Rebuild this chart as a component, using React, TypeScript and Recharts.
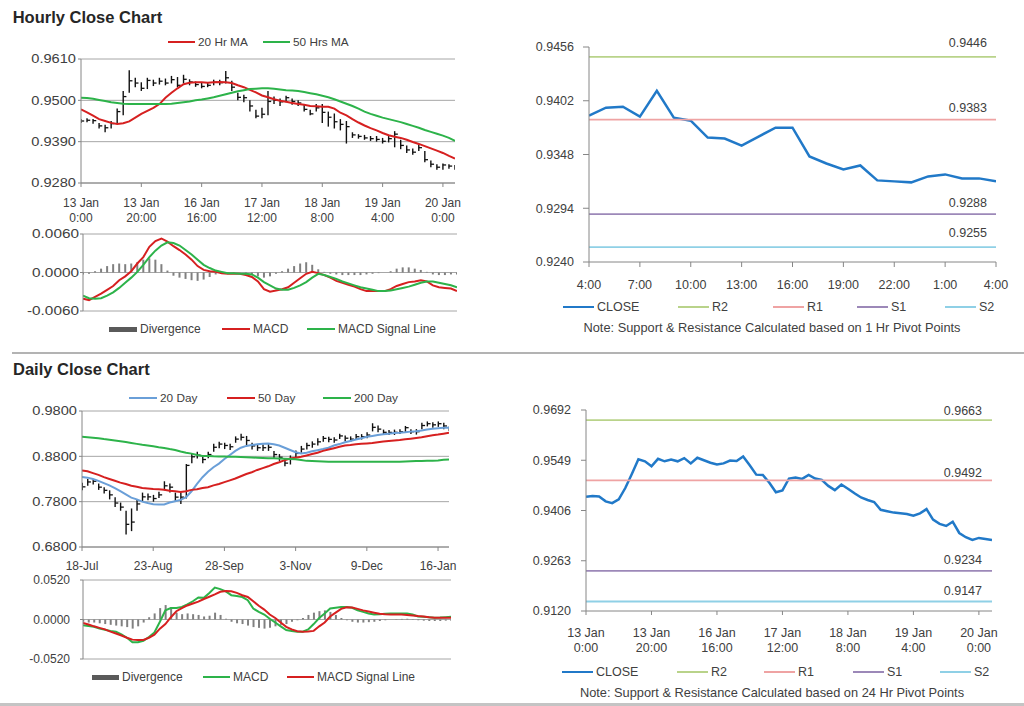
import React from 'react';
import { ComposedChart, Line, Bar, XAxis, YAxis, CartesianGrid, Legend, LabelList } from 'recharts';

const FONT = '"Liberation Sans", Arial, Helvetica, sans-serif';
const TXT = '#404040';
const AXIS = '#868686';
const GRID = '#a6a6a6';
const RED = '#d62020';
const GREEN = '#2db34a';
const LBLUE = '#6a9fd8';
const BLUE = '#2179c8';
const C_R2 = '#b9d38a';
const C_R1 = '#efa3a3';
const C_S1 = '#9c88b8';
const C_S2 = '#8fd0e6';
const DIVC = '#808080';

// ---------- Hourly (2-hour steps) ----------
const hourTickIdx = [0, 10, 20, 30, 40, 50, 60];
const hourTickLabels = [
  ['13 Jan', '0:00'], ['13 Jan', '20:00'], ['16 Jan', '16:00'], ['17 Jan', '12:00'],
  ['18 Jan', '8:00'], ['19 Jan', '4:00'], ['20 Jan', '0:00'],
];
const hourClose = [
  0.9445, 0.9447, 0.9446, 0.9432, 0.9427, 0.9438, 0.9470, 0.9510, 0.9552, 0.9546,
  0.9532, 0.9553, 0.9546, 0.9551, 0.9546, 0.9555, 0.9540, 0.9556, 0.9549, 0.9542,
  0.9537, 0.9540, 0.9548, 0.9547, 0.9560, 0.9535, 0.9508, 0.9507, 0.9485, 0.9458,
  0.9463, 0.9497, 0.9500, 0.9496, 0.9507, 0.9497, 0.9493, 0.9476, 0.9464, 0.9480,
  0.9468, 0.9455, 0.9443, 0.9436, 0.9430, 0.9408, 0.9404, 0.9400, 0.9398, 0.9396,
  0.9391, 0.9398, 0.9410, 0.9380, 0.9368, 0.9362, 0.9374, 0.9342, 0.9330, 0.9322,
  0.9328, 0.9325, 0.9322,
];
const hourHigh = [
  0.9450, 0.9452, 0.9450, 0.9440, 0.9435, 0.9445, 0.9478, 0.9525, 0.9580, 0.9560,
  0.9548, 0.9560, 0.9555, 0.9560, 0.9558, 0.9565, 0.9562, 0.9568, 0.9556, 0.9550,
  0.9548, 0.9548, 0.9555, 0.9555, 0.9578, 0.9552, 0.9520, 0.9515, 0.9500, 0.9475,
  0.9480, 0.9525, 0.9510, 0.9505, 0.9512, 0.9505, 0.9500, 0.9490, 0.9475, 0.9490,
  0.9490, 0.9470, 0.9465, 0.9450, 0.9445, 0.9415, 0.9410, 0.9408, 0.9405, 0.9405,
  0.9400, 0.9405, 0.9418, 0.9395, 0.9380, 0.9372, 0.9382, 0.9365, 0.9340, 0.9330,
  0.9332, 0.9330, 0.9328,
];
const hourLow = [
  0.9440, 0.9442, 0.9438, 0.9425, 0.9415, 0.9425, 0.9440, 0.9460, 0.9520, 0.9535,
  0.9525, 0.9530, 0.9538, 0.9542, 0.9540, 0.9545, 0.9535, 0.9545, 0.9540, 0.9536,
  0.9532, 0.9535, 0.9540, 0.9540, 0.9545, 0.9525, 0.9500, 0.9495, 0.9470, 0.9452,
  0.9452, 0.9460, 0.9490, 0.9485, 0.9495, 0.9488, 0.9485, 0.9470, 0.9460, 0.9470,
  0.9440, 0.9430, 0.9425, 0.9420, 0.9385, 0.9400, 0.9398, 0.9395, 0.9392, 0.9390,
  0.9385, 0.9388, 0.9375, 0.9370, 0.9360, 0.9355, 0.9365, 0.9335, 0.9322, 0.9315,
  0.9315, 0.9318, 0.9315,
];
const hourMA20 = [
  0.9476, 0.9468, 0.9459, 0.9450, 0.9445, 0.9440, 0.9437, 0.9439, 0.9444, 0.9454,
  0.9464, 0.9472, 0.9480, 0.9490, 0.9507, 0.9520, 0.9532, 0.9543, 0.9547, 0.9548,
  0.9548, 0.9547, 0.9548, 0.9549, 0.9548, 0.9546, 0.9540, 0.9535, 0.9528, 0.9521,
  0.9513, 0.9508, 0.9503, 0.9499, 0.9496, 0.9493, 0.9490, 0.9488, 0.9485, 0.9484,
  0.9483, 0.9483, 0.9478, 0.9467, 0.9460, 0.9450, 0.9441, 0.9433, 0.9426, 0.9420,
  0.9413, 0.9407, 0.9403, 0.9400, 0.9395, 0.9389, 0.9384, 0.9378, 0.9372, 0.9366,
  0.9360, 0.9352, 0.9345,
];
const hourMA50 = [
  0.9507, 0.9506, 0.9504, 0.9501, 0.9498, 0.9495, 0.9493, 0.9491, 0.9490, 0.9490,
  0.9490, 0.9490, 0.9490, 0.9490, 0.9490, 0.9491, 0.9493, 0.9495, 0.9497, 0.9500,
  0.9502, 0.9505, 0.9508, 0.9512, 0.9516, 0.9520, 0.9524, 0.9527, 0.9530, 0.9531,
  0.9532, 0.9532, 0.9531, 0.9529, 0.9527, 0.9526, 0.9525, 0.9522, 0.9519, 0.9516,
  0.9512, 0.9508, 0.9503, 0.9497, 0.9491, 0.9485, 0.9478, 0.9470, 0.9464, 0.9459,
  0.9454, 0.9450, 0.9446, 0.9442, 0.9437, 0.9432, 0.9427, 0.9421, 0.9416, 0.9411,
  0.9406, 0.9400, 0.9392,
];
const hourMACD = [
  -0.0041, -0.0043, -0.0038, -0.0033, -0.0027, -0.0021, -0.0012, -0.0006, 0.0002, 0.0014,
  0.0024, 0.0040, 0.0049, 0.0053, 0.0048, 0.0041, 0.0035, 0.0028, 0.0020, 0.0010,
  0.0004, 0.0002, 0.0001, -0.0001, -0.0002, -0.0002, -0.0002, -0.0004, -0.0007, -0.0014,
  -0.0026, -0.0030, -0.0028, -0.0026, -0.0023, -0.0016, -0.0009, -0.0002, 0.0001, -0.0001,
  -0.0004, -0.0008, -0.0013, -0.0016, -0.0019, -0.0022, -0.0026, -0.0029, -0.0029, -0.0029,
  -0.0029, -0.0026, -0.0021, -0.0018, -0.0015, -0.0014, -0.0012, -0.0014, -0.0020, -0.0023,
  -0.0024, -0.0025, -0.0029,
];
const hourSignal = [
  -0.0036, -0.0040, -0.0041, -0.0040, -0.0036, -0.0031, -0.0024, -0.0016, -0.0008, 0.0001,
  0.0012, 0.0024, 0.0034, 0.0042, 0.0047, 0.0046, 0.0042, 0.0035, 0.0028, 0.0020,
  0.0012, 0.0007, 0.0003, 0.0001, -0.0001, -0.0001, -0.0002, -0.0002, -0.0003, -0.0008,
  -0.0015, -0.0020, -0.0025, -0.0027, -0.0027, -0.0024, -0.0020, -0.0015, -0.0008, -0.0002,
  -0.0004, -0.0007, -0.0010, -0.0014, -0.0017, -0.0020, -0.0023, -0.0025, -0.0027, -0.0029,
  -0.0029, -0.0028, -0.0026, -0.0024, -0.0022, -0.0019, -0.0016, -0.0014, -0.0014, -0.0016,
  -0.0018, -0.0020, -0.0023,
];
const hourDiv = [
  -0.0003, -0.0002, 0.0002, 0.0006, 0.0010, 0.0013, 0.0014, 0.0013, 0.0014, 0.0016,
  0.0020, 0.0022, 0.0020, 0.0013, 0.0003, -0.0005, -0.0008, -0.0010, -0.0012, -0.0013,
  -0.0011, -0.0007, -0.0003, -0.0002, -0.0001, -0.0001, 0.0000, -0.0002, -0.0004, -0.0006,
  -0.0008, -0.0006, -0.0002, 0.0002, 0.0006, 0.0010, 0.0014, 0.0016, 0.0012, 0.0005,
  0.0001, -0.0002, -0.0003, -0.0004, -0.0004, -0.0004, -0.0004, -0.0003, -0.0002, -0.0001,
  0.0000, 0.0002, 0.0006, 0.0008, 0.0008, 0.0006, 0.0004, 0.0001, -0.0003, -0.0004,
  -0.0004, -0.0003, -0.0003,
];

// ---------- 1-hour pivot chart ----------
const pivotTickIdx = [0, 3, 6, 9, 12, 15, 18, 21, 24];
const pivotTickLabels = ['4:00', '7:00', '10:00', '13:00', '16:00', '19:00', '22:00', '1:00', '4:00'];
const pivotClose = [
  0.9387, 0.9395, 0.9396, 0.9386, 0.9412, 0.9385, 0.9382, 0.9365, 0.9364, 0.9357,
  0.9366, 0.9375, 0.9375, 0.9346, 0.9339, 0.9333, 0.9337, 0.9322, 0.9321, 0.9320,
  0.9326, 0.9328, 0.9324, 0.9324, 0.9321,
];
const hr1R2 = 0.9446;
const hr1R1 = 0.9383;
const hr1S1 = 0.9288;
const hr1S2 = 0.9255;
const d24R2 = 0.9663;
const d24R1 = 0.9492;
const d24S1 = 0.9234;
const d24S2 = 0.9147;

// ---------- Daily (2-day steps) ----------
const dailyTickIdx = [0, 13, 26, 39, 52, 65];
const dailyTickLabels = ['18-Jul', '23-Aug', '28-Sep', '3-Nov', '9-Dec', '16-Jan'];
const dailyClose = [
  0.8127, 0.8235, 0.8250, 0.8120, 0.8050, 0.7950, 0.7770, 0.7680, 0.7300, 0.7350,
  0.7750, 0.7906, 0.7906, 0.7869, 0.7950, 0.8150, 0.8120, 0.7900, 0.7900, 0.8600,
  0.8790, 0.8827, 0.8730, 0.8840, 0.9000, 0.9070, 0.9040, 0.9011, 0.9180, 0.9220,
  0.9150, 0.9030, 0.8990, 0.8990, 0.9000, 0.8840, 0.8780, 0.8650, 0.8754, 0.8864,
  0.8960, 0.9040, 0.9070, 0.9120, 0.9196, 0.9174, 0.9160, 0.9250, 0.9200, 0.9180,
  0.9233, 0.9233, 0.9270, 0.9440, 0.9400, 0.9330, 0.9328, 0.9330, 0.9343, 0.9432,
  0.9343, 0.9343, 0.9480, 0.9520, 0.9495, 0.9520, 0.9470, 0.9402,
];
const dailyHigh = [
  0.8220, 0.8300, 0.8300, 0.8200, 0.8120, 0.8050, 0.7900, 0.7780, 0.7600, 0.7650,
  0.7850, 0.8000, 0.7980, 0.7950, 0.8020, 0.8250, 0.8200, 0.8000, 0.8000, 0.8630,
  0.8850, 0.8900, 0.8820, 0.8900, 0.9080, 0.9120, 0.9100, 0.9080, 0.9240, 0.9300,
  0.9250, 0.9100, 0.9060, 0.9060, 0.9070, 0.8920, 0.8850, 0.8750, 0.8820, 0.8930,
  0.9030, 0.9100, 0.9130, 0.9200, 0.9250, 0.9230, 0.9220, 0.9300, 0.9260, 0.9240,
  0.9290, 0.9290, 0.9330, 0.9530, 0.9480, 0.9390, 0.9380, 0.9390, 0.9400, 0.9470,
  0.9400, 0.9400, 0.9540, 0.9570, 0.9550, 0.9570, 0.9540, 0.9460,
];
const dailyLow = [
  0.8050, 0.8150, 0.8180, 0.8060, 0.7980, 0.7850, 0.7680, 0.7600, 0.7073, 0.7150,
  0.7600, 0.7800, 0.7830, 0.7800, 0.7880, 0.8050, 0.8000, 0.7800, 0.7750, 0.7870,
  0.8650, 0.8750, 0.8650, 0.8760, 0.8900, 0.8980, 0.8960, 0.8940, 0.9100, 0.9150,
  0.9050, 0.8950, 0.8920, 0.8920, 0.8920, 0.8760, 0.8700, 0.8580, 0.8620, 0.8780,
  0.8880, 0.8950, 0.8990, 0.9040, 0.9120, 0.9110, 0.9100, 0.9180, 0.9130, 0.9120,
  0.9170, 0.9170, 0.9200, 0.9350, 0.9330, 0.9270, 0.9270, 0.9270, 0.9290, 0.9320,
  0.9290, 0.9280, 0.9400, 0.9460, 0.9430, 0.9450, 0.9400, 0.9360,
];
const dailyMA20 = [
  0.8345, 0.8330, 0.8300, 0.8260, 0.8210, 0.8160, 0.8100, 0.8030, 0.7960, 0.7890,
  0.7850, 0.7800, 0.7770, 0.7745, 0.7736, 0.7740, 0.7780, 0.7810, 0.7840, 0.7900,
  0.8030, 0.8190, 0.8340, 0.8460, 0.8560, 0.8640, 0.8740, 0.8830, 0.8920, 0.8990,
  0.9030, 0.9050, 0.9065, 0.9080, 0.9083, 0.9065, 0.9040, 0.8990, 0.8940, 0.8890,
  0.8864, 0.8880, 0.8910, 0.8935, 0.8960, 0.8990, 0.9040, 0.9070, 0.9110, 0.9140,
  0.9170, 0.9200, 0.9230, 0.9250, 0.9270, 0.9285, 0.9300, 0.9315, 0.9320, 0.9330,
  0.9345, 0.9355, 0.9370, 0.9390, 0.9410, 0.9420, 0.9428, 0.9432,
];
const dailyMA50 = [
  0.8490, 0.8470, 0.8430, 0.8390, 0.8340, 0.8300, 0.8260, 0.8220, 0.8190, 0.8150,
  0.8130, 0.8100, 0.8090, 0.8080, 0.8075, 0.8065, 0.8040, 0.8030, 0.8016, 0.8030,
  0.8060, 0.8075, 0.8100, 0.8120, 0.8160, 0.8190, 0.8230, 0.8270, 0.8310, 0.8360,
  0.8410, 0.8450, 0.8500, 0.8540, 0.8580, 0.8630, 0.8670, 0.8715, 0.8750, 0.8770,
  0.8790, 0.8820, 0.8850, 0.8880, 0.8920, 0.8950, 0.8980, 0.9010, 0.9040, 0.9050,
  0.9065, 0.9075, 0.9085, 0.9095, 0.9110, 0.9125, 0.9140, 0.9150, 0.9160, 0.9175,
  0.9190, 0.9205, 0.9220, 0.9245, 0.9265, 0.9280, 0.9300, 0.9320,
];
const dailyMA200 = [
  0.9233, 0.9222, 0.9210, 0.9198, 0.9180, 0.9165, 0.9150, 0.9135, 0.9115, 0.9095,
  0.9075, 0.9055, 0.9040, 0.9020, 0.9000, 0.8985, 0.8960, 0.8940, 0.8905, 0.8880,
  0.8860, 0.8830, 0.8810, 0.8805, 0.8800, 0.8798, 0.8795, 0.8792, 0.8790, 0.8785,
  0.8780, 0.8775, 0.8770, 0.8765, 0.8760, 0.8755, 0.8750, 0.8745, 0.8740, 0.8735,
  0.8720, 0.8700, 0.8695, 0.8690, 0.8685, 0.8682, 0.8680, 0.8680, 0.8680, 0.8680,
  0.8680, 0.8680, 0.8680, 0.8680, 0.8680, 0.8680, 0.8680, 0.8680, 0.8680, 0.8685,
  0.8690, 0.8695, 0.8698, 0.8700, 0.8702, 0.8710, 0.8725, 0.8731,
];
const dailyMACD = [
  -0.0074, -0.0085, -0.0096, -0.0120, -0.0135, -0.0150, -0.0161, -0.0195, -0.0240, -0.0300,
  -0.0300, -0.0280, -0.0230, -0.0170, -0.0030, 0.0120, 0.0150, 0.0152, 0.0165, 0.0200,
  0.0240, 0.0290, 0.0285, 0.0350, 0.0420, 0.0400, 0.0370, 0.0320, 0.0310, 0.0296,
  0.0255, 0.0144, 0.0100, 0.0065, 0.0010, -0.0040, -0.0090, -0.0139, -0.0150, -0.0161,
  -0.0161, -0.0130, -0.0060, 0.0020, 0.0080, 0.0144, 0.0155, 0.0165, 0.0165, 0.0155,
  0.0120, 0.0100, 0.0080, 0.0065, 0.0070, 0.0075, 0.0078, 0.0080, 0.0078, 0.0078,
  0.0065, 0.0040, 0.0035, 0.0030, 0.0022, 0.0025, 0.0030, 0.0035,
];
const dailySignal = [
  -0.0044, -0.0065, -0.0090, -0.0110, -0.0130, -0.0160, -0.0185, -0.0210, -0.0240, -0.0265,
  -0.0270, -0.0270, -0.0240, -0.0200, -0.0120, -0.0060, 0.0030, 0.0109, 0.0150, 0.0185,
  0.0210, 0.0235, 0.0270, 0.0300, 0.0330, 0.0365, 0.0374, 0.0372, 0.0350, 0.0320,
  0.0296, 0.0240, 0.0180, 0.0130, 0.0065, 0.0020, -0.0040, -0.0096, -0.0130, -0.0155,
  -0.0161, -0.0158, -0.0150, -0.0090, -0.0040, 0.0040, 0.0090, 0.0140, 0.0160, 0.0157,
  0.0140, 0.0120, 0.0105, 0.0090, 0.0075, 0.0068, 0.0065, 0.0065, 0.0065, 0.0060,
  0.0052, 0.0045, 0.0040, 0.0030, 0.0022, 0.0022, 0.0022, 0.0022,
];
const dailyDiv = [
  -0.0030, -0.0040, -0.0040, -0.0050, -0.0060, -0.0070, -0.0080, -0.0090, -0.0100, -0.0120,
  -0.0090, -0.0040, 0.0030, 0.0080, 0.0150, 0.0190, 0.0160, 0.0090, 0.0070, 0.0080,
  0.0070, 0.0060, 0.0040, 0.0050, 0.0090, 0.0060, 0.0010, -0.0030, -0.0050, -0.0060,
  -0.0080, -0.0100, -0.0110, -0.0120, -0.0110, -0.0090, -0.0070, -0.0060, -0.0030, -0.0010,
  0.0020, 0.0060, 0.0090, 0.0110, 0.0120, 0.0100, 0.0060, 0.0020, -0.0010, -0.0030,
  -0.0040, -0.0040, -0.0035, -0.0030, -0.0020, -0.0010, 0.0000, 0.0005, 0.0008, 0.0010,
  0.0005, -0.0010, -0.0015, -0.0020, -0.0020, -0.0020, -0.0015, -0.0015,
];

// ---------- tables built from the arrays ----------
const hourRows = hourClose.map((c, i) => ({
  i, c, hi: hourHigh[i], lo: hourLow[i], range: [hourLow[i], hourHigh[i]],
  ma20: hourMA20[i], ma50: hourMA50[i], macd: hourMACD[i], sig: hourSignal[i], div: hourDiv[i],
  r2: d24R2, r1: d24R1, s1: d24S1, s2: d24S2,
}));
const pivotRows = pivotClose.map((c, i) => ({ i, c, r2: hr1R2, r1: hr1R1, s1: hr1S1, s2: hr1S2 }));
const dailyRows = dailyClose.map((c, i) => ({
  i, c, hi: dailyHigh[i], lo: dailyLow[i], range: [dailyLow[i], dailyHigh[i]],
  ma20: dailyMA20[i], ma50: dailyMA50[i], ma200: dailyMA200[i],
  macd: dailyMACD[i], sig: dailySignal[i], div: dailyDiv[i],
}));

// ---------- render helpers ----------
function xTick(idx: number[], labels: (string | string[])[], fs: number, dy1: number, dy2 = 15) {
  return (props: any) => {
    const { x, y, payload } = props;
    const k = idx.indexOf(Number(payload.value));
    if (k < 0) return <g />;
    const lab = labels[k];
    const lines = Array.isArray(lab) ? lab : [lab];
    return (
      <text x={x} y={y} textAnchor="middle" fill={TXT} fontSize={fs} fontFamily={FONT}>
        {lines.map((l, j) => (
          <tspan key={j} x={x} dy={j === 0 ? dy1 : dy2}>{l}</tspan>
        ))}
      </text>
    );
  };
}

function yTick(fs: number, sx: number) {
  return (props: any) => {
    const { x, y, payload } = props;
    return (
      <text transform={`translate(${x},${y}) scale(${sx},1)`} x={0} y={0} dy="0.35em" textAnchor="end"
        fill={TXT} fontSize={fs} fontFamily={FONT}>
        {Number(payload.value).toFixed(4)}
      </text>
    );
  };
}

// high-low bar with a close tick on the right
const ohlcShape = (props: any) => {
  const { x, y, width, height, payload } = props;
  if (x == null || y == null || !payload) return <g />;
  const top = Math.min(y, y + height);
  const h = Math.abs(height);
  const cx = x + width / 2;
  const span = payload.hi - payload.lo || 1;
  const cy = top + h * ((payload.hi - payload.c) / span);
  return (
    <g>
      <line x1={cx} x2={cx} y1={top} y2={top + h} stroke="#111" strokeWidth={1.4} />
      <line x1={cx} x2={cx + 3.2} y1={cy} y2={cy} stroke="#111" strokeWidth={1.3} />
    </g>
  );
};

type NoteSpec = { text: string; center: number; top: number; fs: number };
function makeLegend(starts: Record<string, number>, lineW: number, fs: number, note?: NoteSpec) {
  return (props: any) => {
    const payload: any[] = props.payload || [];
    return (
      <div style={{ position: 'relative', width: '100%', height: 14, fontFamily: FONT, fontSize: fs, color: TXT }}>
        {payload.filter((p) => starts[p.value] !== undefined).map((p) => {
          const isRect = p.type === 'rect';
          return (
            <div key={p.value} style={{ position: 'absolute', left: starts[p.value], top: 0, height: 14, display: 'flex', alignItems: 'center', whiteSpace: 'nowrap' }}>
              <span style={{ display: 'inline-block', width: lineW, height: isRect ? 5 : 2, background: isRect ? '#5a5a5a' : p.color }} />
              <span style={{ marginLeft: 3, lineHeight: '14px' }}>{p.value}</span>
            </div>
          );
        })}
        {note && (
          <div style={{ position: 'absolute', left: note.center - 260, width: 520, top: note.top, textAlign: 'center', fontSize: note.fs, lineHeight: '16px', whiteSpace: 'nowrap' }}>
            {note.text}
          </div>
        )}
      </div>
    );
  };
}

function levelLabel(lastIdx: number, dx: number, above: number, fs: number) {
  return (props: any) => {
    const { x, y, value, index } = props;
    if (index !== lastIdx) return <g />;
    return (
      <text x={x + dx} y={y - above} dy="0.35em" textAnchor="end" fill={TXT} fontSize={fs} fontFamily={FONT}>
        {Number(value).toFixed(4)}
      </text>
    );
  };
}

const abs = (left: number, top: number): React.CSSProperties => ({ position: 'absolute', left, top });

export default function App() {
  return (
    <div style={{ position: 'absolute', left: 0, top: 0, width: 1024, height: 706, background: '#fff', overflow: 'hidden', fontFamily: FONT }}>
      <svg width={1024} height={706} style={{ position: 'absolute', left: 0, top: 0 }}>
        <text x={12.7} y={22.7} fontSize={16.5} fontWeight="bold" fill="#262626" fontFamily={FONT}>Hourly Close Chart</text>
        <line x1={12} x2={1024} y1={353} y2={353} stroke="#b3b3b3" strokeWidth={2} />
        <text x={13} y={375} fontSize={16.5} fontWeight="bold" fill="#262626" fontFamily={FONT}>Daily Close Chart</text>
        <line x1={0} x2={1024} y1={704.5} y2={704.5} stroke="#c4c4c4" strokeWidth={3} />
      </svg>

      {/* Panel 1: hourly price */}
      <div style={abs(0, 30)}>
        <ComposedChart width={470} height={200} data={hourRows} margin={{ top: 29, right: 15, bottom: 7, left: 0 }}>
          <CartesianGrid horizontal vertical={false} stroke={GRID} />
          <XAxis type="number" dataKey="i" domain={[0, 62]} ticks={hourTickIdx} interval={0} allowDataOverflow
            height={40} tickSize={4} tickMargin={2} stroke={AXIS} tick={xTick(hourTickIdx, hourTickLabels, 12, 18, 15)} />
          <YAxis type="number" domain={[0.928, 0.961]} ticks={[0.928, 0.939, 0.95, 0.961]} allowDataOverflow interval={0}
            width={81} tickSize={3} tickMargin={2} stroke={AXIS} tick={yTick(12, 1.22)} />
          <Legend layout="horizontal" verticalAlign="middle" align="center" width={470}
            wrapperStyle={{ left: 0, top: 5, width: 470, height: 14 }}
            content={makeLegend({ '20 Hr MA': 168, '50 Hrs MA': 263 }, 27, 11.8)} />
          <Bar dataKey="range" name="Range" barSize={2} legendType="none" shape={ohlcShape} isAnimationActive={false} />
          <Line type="linear" dataKey="ma20" name="20 Hr MA" stroke={RED} strokeWidth={2} dot={false} isAnimationActive={false} />
          <Line type="linear" dataKey="ma50" name="50 Hrs MA" stroke={GREEN} strokeWidth={2} dot={false} isAnimationActive={false} />
        </ComposedChart>
      </div>

      {/* Panel 2: hourly MACD */}
      <div style={abs(0, 220)}>
        <ComposedChart width={470} height={125} data={hourRows} margin={{ top: 14, right: 13, bottom: 34, left: 0 }}>
          <CartesianGrid horizontal vertical={false} stroke={GRID} />
          <XAxis type="number" dataKey="i" domain={[0, 62]} hide allowDataOverflow />
          <YAxis type="number" domain={[-0.006, 0.006]} ticks={[-0.006, 0, 0.006]} allowDataOverflow interval={0}
            width={83} tickSize={3} tickMargin={1} stroke={AXIS} tick={yTick(12, 1.28)} />
          <Legend layout="horizontal" verticalAlign="middle" align="center" width={470}
            wrapperStyle={{ left: 0, top: 102, width: 470, height: 14 }}
            content={makeLegend({ Divergence: 109, MACD: 222, 'MACD Signal Line': 307 }, 28, 12)} />
          <Bar dataKey="div" name="Divergence" barSize={2} fill={DIVC} isAnimationActive={false} />
          <Line type="linear" dataKey="macd" name="MACD" stroke={RED} strokeWidth={2} dot={false} isAnimationActive={false} />
          <Line type="linear" dataKey="sig" name="MACD Signal Line" stroke={GREEN} strokeWidth={2} dot={false} isAnimationActive={false} />
        </ComposedChart>
      </div>

      {/* Panel 3: 1 hr pivot */}
      <div style={abs(510, 30)}>
        <ComposedChart width={510} height={310} data={pivotRows} margin={{ top: 17, right: 24, bottom: 48, left: 0 }}>
          <XAxis type="number" dataKey="i" domain={[0, 24]} ticks={pivotTickIdx} interval={0} allowDataOverflow
            height={30} tickSize={5} tickMargin={2} stroke={AXIS} tick={xTick(pivotTickIdx, pivotTickLabels, 12.5, 20)} />
          <YAxis type="number" domain={[0.924, 0.9456]} ticks={[0.924, 0.9294, 0.9348, 0.9402, 0.9456]} allowDataOverflow interval={0}
            width={79} tickSize={6} tickMargin={9} stroke={AXIS} tick={yTick(12.5, 1)} />
          <Legend layout="horizontal" verticalAlign="middle" align="center" width={510}
            wrapperStyle={{ left: 0, top: 270, width: 510, height: 14 }}
            content={makeLegend({ CLOSE: 53, R2: 168, R1: 263, S1: 347, S2: 435 }, 31, 12.5,
              { text: 'Note: Support & Resistance Calculated based on 1 Hr Pivot Points', center: 262, top: 20, fs: 12.8 })} />
          <Line type="linear" dataKey="c" name="CLOSE" stroke={BLUE} strokeWidth={2.5} dot={false} isAnimationActive={false} />
          <Line type="linear" dataKey="r2" name="R2" stroke={C_R2} strokeWidth={1.8} dot={false} isAnimationActive={false}>
            <LabelList dataKey="r2" content={levelLabel(24, -9, 14, 12.5)} />
          </Line>
          <Line type="linear" dataKey="r1" name="R1" stroke={C_R1} strokeWidth={1.8} dot={false} isAnimationActive={false}>
            <LabelList dataKey="r1" content={levelLabel(24, -9, 12, 12.5)} />
          </Line>
          <Line type="linear" dataKey="s1" name="S1" stroke={C_S1} strokeWidth={1.8} dot={false} isAnimationActive={false}>
            <LabelList dataKey="s1" content={levelLabel(24, -9, 12, 12.5)} />
          </Line>
          <Line type="linear" dataKey="s2" name="S2" stroke={C_S2} strokeWidth={1.8} dot={false} isAnimationActive={false}>
            <LabelList dataKey="s2" content={levelLabel(24, -9, 14, 12.5)} />
          </Line>
        </ComposedChart>
      </div>

      {/* Panel 4: daily price */}
      <div style={abs(0, 380)}>
        <ComposedChart width={470} height={200} data={dailyRows} margin={{ top: 31, right: 21, bottom: 8, left: 0 }}>
          <CartesianGrid horizontal vertical={false} stroke={GRID} />
          <XAxis type="number" dataKey="i" domain={[0, 67]} ticks={dailyTickIdx} interval={0} allowDataOverflow
            height={25} tickSize={4} tickMargin={2} stroke={AXIS} tick={xTick(dailyTickIdx, dailyTickLabels, 12, 16.5)} />
          <YAxis type="number" domain={[0.68, 0.98]} ticks={[0.68, 0.78, 0.88, 0.98]} allowDataOverflow interval={0}
            width={82} tickSize={3} tickMargin={2} stroke={AXIS} tick={yTick(12, 1.22)} />
          <Legend layout="horizontal" verticalAlign="middle" align="center" width={470}
            wrapperStyle={{ left: 0, top: 11, width: 470, height: 14 }}
            content={makeLegend({ '20 Day': 129, '50 Day': 227, '200 Day': 323 }, 28, 11.8)} />
          <Bar dataKey="range" name="Range" barSize={2} legendType="none" shape={ohlcShape} isAnimationActive={false} />
          <Line type="linear" dataKey="ma20" name="20 Day" stroke={LBLUE} strokeWidth={2} dot={false} isAnimationActive={false} />
          <Line type="linear" dataKey="ma50" name="50 Day" stroke={RED} strokeWidth={2} dot={false} isAnimationActive={false} />
          <Line type="linear" dataKey="ma200" name="200 Day" stroke={GREEN} strokeWidth={2} dot={false} isAnimationActive={false} />
        </ComposedChart>
      </div>

      {/* Panel 5: daily MACD */}
      <div style={abs(0, 565)}>
        <ComposedChart width={470} height={125} data={dailyRows} margin={{ top: 15, right: 19, bottom: 31, left: 0 }}>
          <CartesianGrid horizontal vertical={false} stroke={GRID} />
          <XAxis type="number" dataKey="i" domain={[0, 67]} hide allowDataOverflow />
          <YAxis type="number" domain={[-0.052, 0.052]} ticks={[-0.052, 0, 0.052]} allowDataOverflow interval={0}
            width={83} tickSize={3} tickMargin={10} stroke={AXIS} tick={yTick(12, 1)} />
          <Legend layout="horizontal" verticalAlign="middle" align="center" width={470}
            wrapperStyle={{ left: 0, top: 105, width: 470, height: 14 }}
            content={makeLegend({ Divergence: 92, MACD: 203, 'MACD Signal Line': 287 }, 27, 12)} />
          <Bar dataKey="div" name="Divergence" barSize={2} fill={DIVC} isAnimationActive={false} />
          <Line type="linear" dataKey="macd" name="MACD" stroke={GREEN} strokeWidth={2} dot={false} isAnimationActive={false} />
          <Line type="linear" dataKey="sig" name="MACD Signal Line" stroke={RED} strokeWidth={2} dot={false} isAnimationActive={false} />
        </ComposedChart>
      </div>

      {/* Panel 6: 24 hr pivot */}
      <div style={abs(510, 395)}>
        <ComposedChart width={510} height={311} data={hourRows} margin={{ top: 15, right: 28, bottom: 50, left: 0 }}>
          <XAxis type="number" dataKey="i" domain={[0, 62]} ticks={hourTickIdx} interval={0} allowDataOverflow
            height={45} tickSize={4} tickMargin={2} stroke={AXIS} tick={xTick(hourTickIdx, hourTickLabels, 12.5, 20, 15)} />
          <YAxis type="number" domain={[0.912, 0.9692]} ticks={[0.912, 0.9263, 0.9406, 0.9549, 0.9692]} allowDataOverflow interval={0}
            width={76} tickSize={5} tickMargin={10} stroke={AXIS} tick={yTick(12.5, 1)} />
          <Legend layout="horizontal" verticalAlign="middle" align="center" width={510}
            wrapperStyle={{ left: 0, top: 270, width: 510, height: 14 }}
            content={makeLegend({ CLOSE: 52, R2: 167, R1: 254, S1: 343, S2: 430 }, 31, 12.5,
              { text: 'Note: Support & Resistance Calculated based on 24 Hr Pivot Points', center: 262, top: 20, fs: 12.8 })} />
          <Line type="linear" dataKey="c" name="CLOSE" stroke={BLUE} strokeWidth={2.5} dot={false} isAnimationActive={false} />
          <Line type="linear" dataKey="r2" name="R2" stroke={C_R2} strokeWidth={1.8} dot={false} isAnimationActive={false}>
            <LabelList dataKey="r2" content={levelLabel(62, -10, 10, 12.5)} />
          </Line>
          <Line type="linear" dataKey="r1" name="R1" stroke={C_R1} strokeWidth={1.8} dot={false} isAnimationActive={false}>
            <LabelList dataKey="r1" content={levelLabel(62, -10, 8, 12.5)} />
          </Line>
          <Line type="linear" dataKey="s1" name="S1" stroke={C_S1} strokeWidth={1.8} dot={false} isAnimationActive={false}>
            <LabelList dataKey="s1" content={levelLabel(62, -10, 11, 12.5)} />
          </Line>
          <Line type="linear" dataKey="s2" name="S2" stroke={C_S2} strokeWidth={1.8} dot={false} isAnimationActive={false}>
            <LabelList dataKey="s2" content={levelLabel(62, -10, 11, 12.5)} />
          </Line>
        </ComposedChart>
      </div>
    </div>
  );
}
